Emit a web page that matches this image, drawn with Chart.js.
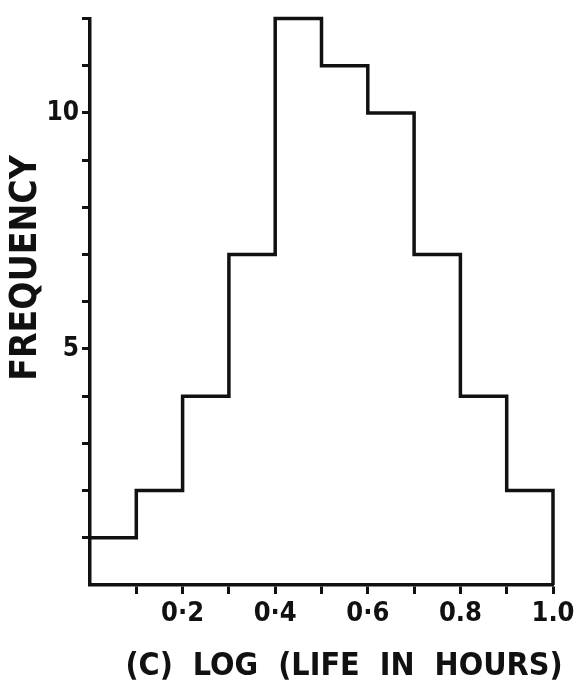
<!DOCTYPE html>
<html>
<head>
<meta charset="utf-8">
<script src="https://cdn.jsdelivr.net/npm/chart.js@4/dist/chart.umd.min.js"></script>
<style>
    html, body { margin: 0; padding: 0; background: #fff; }
    #grafico { display: block; }
</style>
</head>
<body>
<canvas id="grafico" width="579" height="688"></canvas>
<script>
// limites de las clases (log de la vida en horas)
const bordes = [0, 0.1, 0.2, 0.3, 0.4, 0.5, 0.6, 0.7, 0.8, 0.9, 1.0];
// frecuencia de cada clase
const frecuencias = [1, 2, 4, 7, 12, 11, 10, 7, 4, 2];
// marcas con etiqueta
const etiquetasX = { "0.2": "0·2", "0.4": "0·4", "0.6": "0·6", "0.8": "0.8", "1.0": "1.0" };
const etiquetasY = { 5: "5", 10: "10" };
const tituloX = "(C)  LOG  (LIFE  IN  HOURS)";
const tituloY = "FREQUENCY";

const tinta = "#111";
const fuente = "'DejaVu Sans Condensed', 'DejaVu Sans', sans-serif";

// contorno escalonado del histograma
const puntos = frecuencias.map((f, i) => ({ x: bordes[i], y: f }));
puntos.push({ x: bordes[bordes.length - 1], y: frecuencias[frecuencias.length - 1] });
puntos.push({ x: bordes[bordes.length - 1], y: 0 });

// titulos de los ejes, colocados a mano como en el dibujo original
const titulos = {
    id: "titulos",
    afterDraw(chart) {
        const ctx = chart.ctx;
        const area = chart.chartArea;
        ctx.save();
        ctx.fillStyle = tinta;
        ctx.textAlign = "center";
        ctx.textBaseline = "middle";

        ctx.font = "bold 32px " + fuente;
        ctx.fillText(tituloX, area.left + 254, 667);

        ctx.translate(26, 268);
        ctx.rotate(-Math.PI / 2);
        ctx.font = "bold 37px " + fuente;
        ctx.fillText(tituloY, 0, 0);
        ctx.restore();
    }
};

new Chart(document.getElementById("grafico"), {
    type: "line",
    data: {
        datasets: [{
            data: puntos,
            stepped: "before",
            borderColor: tinta,
            borderWidth: 3.5,
            pointRadius: 0,
            clip: false,
            fill: false
        }]
    },
    options: {
        responsive: false,
        animation: false,
        layout: { autoPadding: false, padding: { top: 11, right: 26, left: 0, bottom: 0 } },
        plugins: { legend: { display: false }, tooltip: { enabled: false } },
        scales: {
            x: {
                type: "linear",
                min: 0,
                max: 1.0,
                afterFit: s => { s.height = 103; },
                border: { color: tinta, width: 3.5 },
                grid: {
                    drawOnChartArea: false,
                    tickLength: 9,
                    tickWidth: 3,
                    tickColor: c => (c.tick && c.tick.value === 0 ? "rgba(0,0,0,0)" : tinta)
                },
                ticks: {
                    stepSize: 0.1,
                    color: tinta,
                    padding: 4,
                    maxRotation: 0,
                    autoSkip: false,
                    font: { family: fuente, size: 27, weight: "bold" },
                    callback: v => etiquetasX[v.toFixed(1)] || ""
                }
            },
            y: {
                min: 0,
                max: 12,
                afterFit: s => { s.width = 90; },
                border: { color: tinta, width: 3.5 },
                grid: {
                    drawOnChartArea: false,
                    tickLength: 8,
                    tickWidth: 3,
                    tickColor: c => (c.tick && c.tick.value === 0 ? "rgba(0,0,0,0)" : tinta)
                },
                ticks: {
                    stepSize: 1,
                    color: tinta,
                    padding: 3,
                    font: { family: fuente, size: 26, weight: "bold" },
                    callback: v => etiquetasY[v] || ""
                }
            }
        }
    },
    plugins: [titulos]
});
</script>
</body>
</html>
